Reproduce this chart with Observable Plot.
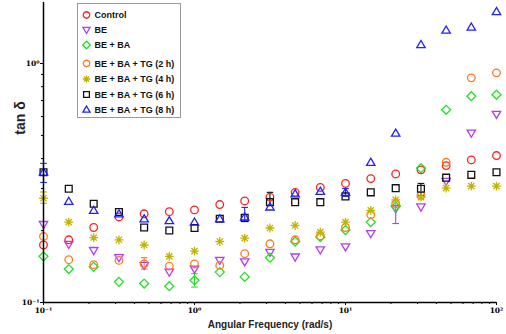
<!DOCTYPE html>
<html>
<head>
<meta charset="utf-8">
<script src="https://cdn.jsdelivr.net/npm/d3@7"></script>
<script src="https://cdn.jsdelivr.net/npm/@observablehq/plot@0.6"></script>
<style>
  html, body { margin: 0; padding: 0; background: #fff; }
  #chart svg { display: block; }
</style>
</head>
<body>
<div id="chart"></div>
<script>
// Angular frequency sweep (rad/s)
const freqs = [0.1, 0.147, 0.215, 0.316, 0.464, 0.681, 1, 1.47, 2.15, 3.16, 4.64, 6.81, 10, 14.7, 21.5, 31.6, 46.4, 68.1, 100];

// tan δ for each sample
const control = [0.174, 0.183, 0.206, 0.228, 0.235, 0.240, 0.244, 0.257, 0.266, 0.276, 0.289, 0.303, 0.315, 0.330, 0.345, 0.359, 0.374, 0.395, 0.412];
const be      = [0.212, 0.175, 0.165, 0.154, 0.143, 0.134, 0.138, 0.150, 0.148, 0.162, 0.155, 0.166, 0.171, 0.194, 0.247, 0.251, 0.321, 0.511, 0.613];
const beBa    = [0.156, 0.138, 0.141, 0.122, 0.120, 0.117, 0.124, 0.134, 0.128, 0.154, 0.180, 0.188, 0.201, 0.217, 0.252, 0.365, 0.640, 0.730, 0.740];
const tg2h    = [0.189, 0.151, 0.144, 0.150, 0.145, 0.142, 0.145, 0.143, 0.160, 0.176, 0.183, 0.190, 0.206, 0.233, 0.259, 0.281, 0.386, 0.871, 0.914];
const tg4h    = [0.273, 0.217, 0.187, 0.183, 0.174, 0.156, 0.164, 0.180, 0.186, 0.205, 0.210, 0.197, 0.217, 0.243, 0.269, 0.276, 0.301, 0.307, 0.307];
const tg6h    = [0.351, 0.299, 0.259, 0.239, 0.206, 0.200, 0.205, 0.224, 0.226, 0.263, 0.263, 0.263, 0.278, 0.289, 0.301, 0.299, 0.333, 0.342, 0.351];
const tg8h    = [0.351, 0.265, 0.243, 0.235, 0.224, 0.220, 0.217, 0.224, 0.228, 0.251, 0.285, 0.292, 0.289, 0.386, 0.511, 1.20, 1.38, 1.42, 1.65];

const seriesNames  = ["Control", "BE", "BE + BA", "BE + BA + TG (2 h)", "BE + BA + TG (4 h)", "BE + BA + TG (6 h)", "BE + BA + TG (8 h)"];
const seriesValues = [control, be, beBa, tg2h, tg4h, tg6h, tg8h];
const seriesColors = ["#ff1f1f", "#b23cf2", "#22e022", "#ff7a1f", "#c2b300", "#111111", "#1f1fff"];

// Error bars: sample, point index, lower and upper tan δ
const errSeries = ["BE + BA + TG (8 h)", "BE + BA + TG (4 h)", "BE + BA + TG (2 h)", "BE + BA", "BE + BA + TG (8 h)", "BE + BA + TG (6 h)", "BE + BA + TG (8 h)", "BE", "BE + BA + TG (6 h)"];
const errIndex  = [0, 0, 4, 6, 8, 9, 12, 14, 15];
const errLow    = [0.318, 0.260, 0.138, 0.116, 0.218, 0.255, 0.278, 0.214, 0.280];
const errHigh   = [0.382, 0.290, 0.154, 0.132, 0.250, 0.289, 0.300, 0.255, 0.315];

// Axis ticks
const xMajor = [0.1, 1, 10, 100];
const xMinor = [2, 3, 4, 5, 6, 7, 8, 9].flatMap(m => [0.1 * m, m, 10 * m]);
const yMajor = [0.1, 1];
const yMinor = [0.2, 0.3, 0.4, 0.5, 0.6, 0.7, 0.8, 0.9];
const sup = {"-": "⁻", "0": "⁰", "1": "¹", "2": "²", "3": "³"};
const powerLabel = v => "10" + String(Math.round(Math.log10(v))).split("").map(c => sup[c]).join("");

// Marker shapes (r = nominal radius in px)
const rad = size => Math.sqrt(size / Math.PI);
const circleSym = {draw(c, size) { const r = rad(size) * 0.95; c.moveTo(r, 0); c.arc(0, 0, r, 0, 2 * Math.PI); c.closePath(); }};
const triDownSym = {draw(c, size) { const r = rad(size) * 1.05; c.moveTo(-r, -0.72 * r); c.lineTo(r, -0.72 * r); c.lineTo(0, 0.98 * r); c.closePath(); }};
const triUpSym = {draw(c, size) { const r = rad(size) * 1.05; c.moveTo(0, -0.98 * r); c.lineTo(r, 0.72 * r); c.lineTo(-r, 0.72 * r); c.closePath(); }};
const diamondSym = {draw(c, size) { const r = rad(size) * 1.12; c.moveTo(0, -r); c.lineTo(r, 0); c.lineTo(0, r); c.lineTo(-r, 0); c.closePath(); }};
const squareSym = {draw(c, size) { const s = rad(size) * 0.85; c.rect(-s, -s, 2 * s, 2 * s); }};
const starSym = {draw(c, size) {
  const r = rad(size) * 1.1;
  for (let k = 0; k < 4; ++k) {
    const a = k * Math.PI / 4, dx = r * Math.cos(a), dy = r * Math.sin(a);
    c.moveTo(dx, dy); c.lineTo(-dx, -dy);
  }
}};
const capSym = {draw(c, size) { const r = rad(size); c.moveTo(-r, 0); c.lineTo(r, 0); }};
const seriesSymbols = [circleSym, triDownSym, diamondSym, circleSym, starSym, squareSym, triUpSym];

const points = seriesNames.flatMap((name, s) =>
  seriesValues[s].map((v, i) => ({name, s, f: freqs[i], v})));
const errs = errSeries.map((name, k) => {
  const s = seriesNames.indexOf(name);
  return {s, f: freqs[errIndex[k]], lo: errLow[k], hi: errHigh[k]};
});

const tickFont = {fontFamily: "DejaVu Serif", fontSize: 7.5, fontWeight: "bold"};

const chart = Plot.plot({
  width: 506,
  height: 334,
  marginLeft: 43,
  marginRight: 10,
  marginTop: 2,
  marginBottom: 32,
  style: {background: "#fff", color: "#000"},
  x: {type: "log", domain: [0.1, 100]},
  y: {type: "log", domain: [0.1, 1.8]},
  marks: [
    // error bars
    ...seriesNames.map((_, s) => Plot.ruleX(errs.filter(e => e.s === s), {x: "f", y1: "lo", y2: "hi", stroke: seriesColors[s], strokeWidth: 1.1})),
    ...seriesNames.map((_, s) => Plot.dot(errs.filter(e => e.s === s), {x: "f", y: "lo", symbol: capSym, r: 3.3, stroke: seriesColors[s], strokeWidth: 1.1})),
    ...seriesNames.map((_, s) => Plot.dot(errs.filter(e => e.s === s), {x: "f", y: "hi", symbol: capSym, r: 3.3, stroke: seriesColors[s], strokeWidth: 1.1})),
    // markers
    ...seriesNames.map((name, s) => Plot.dot(points.filter(d => d.s === s), {
      x: "f", y: "v", symbol: seriesSymbols[s], r: 4, fill: "none", stroke: seriesColors[s], strokeWidth: 1.3
    })),
    // axes
    Plot.axisX({ticks: xMinor, tickSize: 2, tickFormat: () => "", label: null, strokeWidth: 1}),
    Plot.axisX({ticks: xMajor, tickSize: 3, tickPadding: 2, tickFormat: powerLabel, label: null, ...tickFont}),
    Plot.axisY({ticks: yMinor, tickSize: 2, tickFormat: () => "", label: null}),
    Plot.axisY({ticks: yMajor, tickSize: 3, tickPadding: 1, tickFormat: powerLabel, label: null, ...tickFont}),
    Plot.ruleX([0.1], {stroke: "#000", strokeWidth: 1.5}),
    Plot.ruleY([0.1], {stroke: "#000", strokeWidth: 1.5})
  ]
});

const svg = d3.select(chart);

// axis titles
svg.append("text")
  .attr("x", 270).attr("y", 328)
  .attr("text-anchor", "middle")
  .style("font", "bold 10px 'Liberation Sans', sans-serif")
  .attr("fill", "#222")
  .text("Angular Frequency (rad/s)");
svg.append("text")
  .attr("transform", "translate(25,118) rotate(-90)")
  .attr("text-anchor", "middle")
  .style("font", "bold 14px 'Liberation Sans', sans-serif")
  .attr("fill", "#222")
  .text("tan δ");

// legend
const legendRows = [15, 30, 45, 63.5, 79, 94.5, 109.5];
const lg = svg.append("g");
lg.append("rect")
  .attr("x", 77.5).attr("y", 3.5).attr("width", 103).attr("height", 114)
  .attr("fill", "#fff").attr("stroke", "#999").attr("stroke-width", 1);
seriesNames.forEach((name, s) => {
  const row = lg.append("g").attr("transform", `translate(86.5,${legendRows[s]})`);
  row.append("path")
    .attr("d", d3.symbol(seriesSymbols[s], Math.PI * 3.4 * 3.4)())
    .attr("fill", "none").attr("stroke", seriesColors[s]).attr("stroke-width", 1.3);
  row.append("text")
    .attr("x", 8).attr("dy", "0.35em")
    .attr("text-anchor", "start")
    .style("font", "bold 9px 'Liberation Sans', sans-serif")
    .attr("fill", "#111")
    .text(name);
});

document.getElementById("chart").append(chart);
</script>
</body>
</html>
